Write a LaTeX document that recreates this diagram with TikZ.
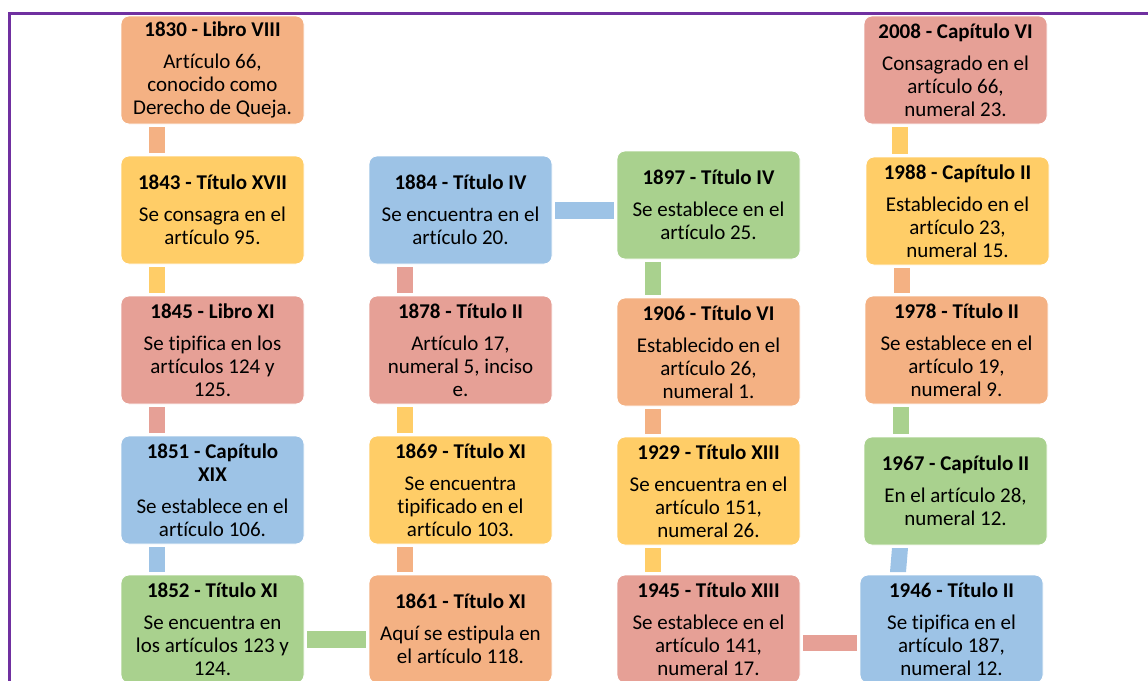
\documentclass[tikz,border=0pt]{standalone}
\usepackage{fontspec}
\setmainfont{Carlito}[Ligatures={NoCommon}]
\usetikzlibrary{calc}
\definecolor{cOr}{HTML}{F4B183}
\definecolor{cYe}{HTML}{FFCD67}
\definecolor{cPk}{HTML}{E6A096}
\definecolor{cBl}{HTML}{9DC3E6}
\definecolor{cGr}{HTML}{A9D18E}
\definecolor{cFrame}{HTML}{7030A0}
\newcommand{\tlbox}[6]{\node[tlnode, fill=#4] (#1) at (#2,#3) {\textbf{#5}\\[9pt]#6};}
\newcommand{\tlvcon}[3]{\fill[#3] ([shift={(28,3)}]#1.south west) rectangle ($(#1.south west |- #2.north west)+(44,-3)$);}
\begin{document}
\begin{tikzpicture}[x=1pt,y=-1pt,
  tlnode/.style={rectangle, rounded corners=8pt, draw=white, line width=0.8pt, outer sep=0pt,
    minimum width=183pt, minimum height=108pt, inner sep=0pt, align=center, anchor=north west,
    font=\fontsize{21}{23}\selectfont, text=black},
  frameline/.style={draw=cFrame, line width=3pt}]
\useasboundingbox (0,0) rectangle (1148,680);
\clip (0,0) rectangle (1148,680);
\draw[frameline] (9,690) -- (9,13) -- (1160,13);
% column 1
\tlbox{n1830}{121}{16}{cOr}{1830 - Libro VIII}{Artículo 66,\\conocido como\\Derecho de Queja.}
\tlbox{n1843}{121}{156}{cYe}{1843 - Título XVII}{Se consagra en el\\artículo 95.}
\tlbox{n1845}{121}{296}{cPk}{1845 - Libro XI}{Se tipifica en los\\artículos 124 y\\125.}
\node[tlnode, fill=cBl] (n1851) at (121,436) {\textbf{1851 - Capítulo}\\\textbf{XIX}\\[9pt]Se establece en el\\artículo 106.};
\tlbox{n1852}{121}{575}{cGr}{1852 - Título XI}{Se encuentra en\\los artículos 123 y\\124.}
% column 2
\tlbox{n1884}{369}{156}{cBl}{1884 - Título IV}{Se encuentra en el\\artículo 20.}
\tlbox{n1878}{369}{296}{cPk}{1878 - Título II}{Artículo 17,\\numeral 5, inciso\\e.}
\tlbox{n1869}{369}{436}{cYe}{1869 - Título XI}{Se encuentra\\tipificado en el\\artículo 103.}
\tlbox{n1861}{369}{575}{cOr}{1861 - Título XI}{Aquí se estipula en\\el artículo 118.}
% column 3
\tlbox{n1897}{617}{151}{cGr}{1897 - Título IV}{Se establece en el\\artículo 25.}
\tlbox{n1906}{617}{298}{cOr}{1906 - Título VI}{Establecido en el\\artículo 26,\\numeral 1.}
\tlbox{n1929}{617}{437}{cYe}{1929 - Título XIII}{Se encuentra en el\\artículo 151,\\numeral 26.}
\tlbox{n1945}{617}{575}{cPk}{1945 - Título XIII}{Se establece en el\\artículo 141,\\numeral 17.}
% column 4
\tlbox{n2008}{864}{16}{cPk}{2008 - Capítulo VI}{Consagrado en el\\artículo 66,\\numeral 23.}
\tlbox{n1988}{866}{157}{cYe}{1988 - Capítulo II}{Establecido en el\\artículo 23,\\numeral 15.}
\tlbox{n1978}{865}{296}{cOr}{1978 - Título II}{Se establece en el\\artículo 19,\\numeral 9.}
\tlbox{n1967}{864}{437}{cGr}{1967 - Capítulo II}{En el artículo 28,\\numeral 12.}
\tlbox{n1946}{860}{575}{cBl}{1946 - Título II}{Se tipifica en el\\artículo 187,\\numeral 12.}
% vertical connectors
\tlvcon{n1830}{n1843}{cOr}
\tlvcon{n1843}{n1845}{cYe}
\tlvcon{n1845}{n1851}{cPk}
\tlvcon{n1851}{n1852}{cBl}
\tlvcon{n1869}{n1861}{cOr}
\tlvcon{n1878}{n1869}{cYe}
\tlvcon{n1884}{n1878}{cPk}
\tlvcon{n1897}{n1906}{cGr}
\tlvcon{n1906}{n1929}{cOr}
\tlvcon{n1929}{n1945}{cYe}
\fill[cBl] ([shift={(28,3)}]n1967.south west) -- ([shift={(44,3)}]n1967.south west) -- ([shift={(46,-3)}]n1946.north west) -- ([shift={(30,-3)}]n1946.north west) -- cycle;
\tlvcon{n1978}{n1967}{cGr}
\tlvcon{n1988}{n1978}{cOr}
\tlvcon{n2008}{n1988}{cYe}
% horizontal connectors
\fill[cGr] ($(n1852.north east)+(3,56)$) rectangle ($(n1861.north west |- n1852.north east)+(-3,73)$);
\fill[cBl] ($(n1884.north east)+(3,46)$) rectangle ($(n1897.north west |- n1884.north east)+(-3,63)$);
\fill[cPk] ($(n1945.north east)+(3,60)$) rectangle ($(n1946.north west |- n1945.north east)+(-3,76)$);
\end{tikzpicture}
\end{document}
